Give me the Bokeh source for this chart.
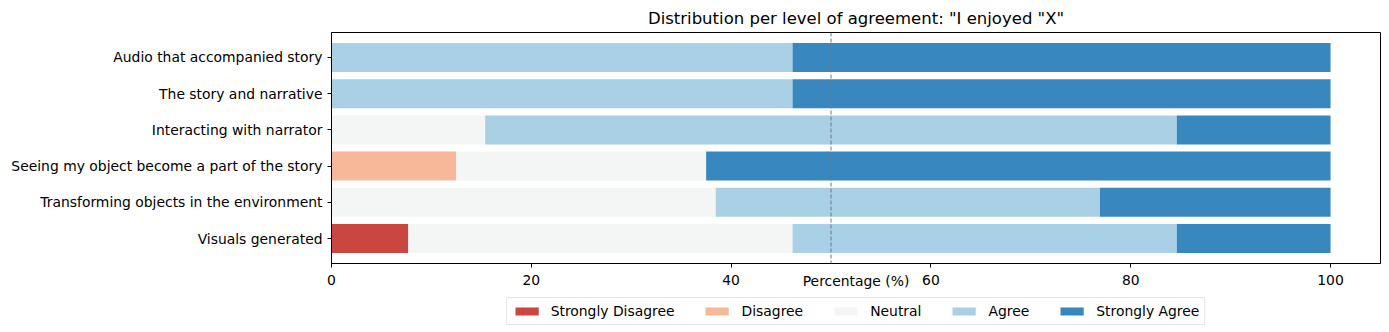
from bokeh.plotting import figure
from bokeh.layouts import column
from bokeh.models import ColumnDataSource, FactorRange, Range1d, Span, Legend, LegendItem, FixedTicker
from bokeh.embed import file_html
from bokeh.resources import INLINE

categories = ["Audio that accompanied story", "The story and narrative", "Interacting with narrator",
              "Seeing my object become a part of the story", "Transforming objects in the environment",
              "Visuals generated"]
levels = ["Strongly Disagree", "Disagree", "Neutral", "Agree", "Strongly Agree"]
strongly_disagree = [0, 0, 0, 0, 0, 7.69]
disagree = [0, 0, 0, 12.5, 0, 0]
neutral = [0, 0, 15.38, 25.0, 38.46, 38.46]
agree = [46.15, 46.15, 69.23, 0, 38.46, 38.46]
strongly_agree = [53.85, 53.85, 15.39, 62.5, 23.08, 15.39]
x_ticks = [0, 20, 40, 60, 80, 100]
colors = ["#ca4741", "#f6b899", "#f4f6f6", "#a9d0e4", "#3987bf"]
stack_cols = ["sd", "d", "n", "a", "sa"]

source = ColumnDataSource(dict(cat=categories, sd=strongly_disagree, d=disagree, n=neutral,
                               a=agree, sa=strongly_agree))
FONT = "DejaVu Sans"

p = figure(width=1389, height=296, output_backend="svg", toolbar_location=None,
           y_range=FactorRange(factors=list(reversed(categories)), range_padding=0.19,
                               range_padding_units="absolute"),
           x_range=Range1d(0, 105),
           title='Distribution per level of agreement: "I enjoyed "X"',
           min_border_left=331, min_border_right=9, min_border_top=32, min_border_bottom=33)

renderers = p.hbar_stack(stack_cols, y="cat", height=0.8, color=colors,
                         source=source, line_width=0)

p.add_layout(Span(location=50, dimension="height", line_color="#6c7888", line_dash="4 2", line_width=1))

p.title.align = "center"
p.title.text_font = FONT
p.title.text_font_size = "16.5px"
p.title.text_font_style = "normal"
p.title.text_color = "black"
p.title.standoff = 10

p.xgrid.visible = False
p.ygrid.visible = False
p.outline_line_color = "black"
p.outline_line_width = 1

for ax in (p.xaxis[0], p.yaxis[0]):
    ax.axis_line_color = "black"
    ax.major_tick_line_color = "black"
    ax.major_tick_out = 4
    ax.major_tick_in = 0
    ax.minor_tick_line_color = None
    ax.major_label_text_font = FONT
    ax.major_label_text_font_size = "13.9px"
    ax.major_label_text_color = "black"

p.xaxis.ticker = FixedTicker(ticks=x_ticks)
p.xaxis.axis_label = "Percentage (%)"
p.xaxis.axis_label_text_font = FONT
p.xaxis.axis_label_text_font_size = "13.9px"
p.xaxis.axis_label_text_font_style = "normal"
p.xaxis.axis_label_text_color = "black"
p.xaxis.axis_label_standoff = -15
p.xaxis.major_label_standoff = 7

# separate strip holding the legend, below the chart
lg = figure(width=1389, height=30, output_backend="svg", toolbar_location=None,
            x_range=Range1d(0, 1), y_range=Range1d(0, 1),
            min_border_left=331, min_border_right=9, min_border_top=0, min_border_bottom=0)
lg.axis.visible = False
lg.grid.visible = False
lg.outline_line_color = None
lg.background_fill_color = None
lg.border_fill_color = None
nan = float("nan")
lg_source = ColumnDataSource(dict(cat=[nan], sd=[nan], d=[nan], n=[nan], a=[nan], sa=[nan]))
lg_renderers = lg.hbar_stack(stack_cols, y="cat", height=0.8, color=colors, source=lg_source, line_width=0)

legend = Legend(items=[LegendItem(label=l, renderers=[r]) for l, r in zip(levels, lg_renderers)],
                orientation="horizontal", location="center")
legend.label_text_font = FONT
legend.label_text_font_size = "13.9px"
legend.label_text_color = "black"
legend.glyph_width = 29
legend.glyph_height = 10
legend.label_standoff = 10
legend.spacing = 28
legend.padding = 5
legend.label_height = 14
legend.border_line_color = "#cccccc"
legend.margin = 0
lg.add_layout(legend)

open("out.html", "w").write(file_html(column(p, lg, spacing=0), INLINE))
